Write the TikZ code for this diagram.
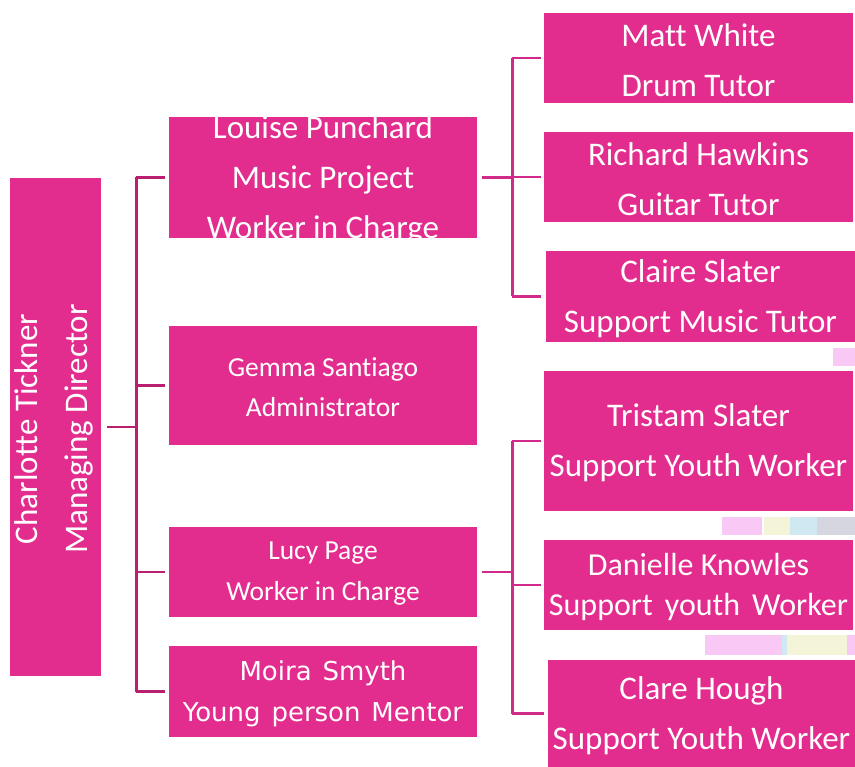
\documentclass[tikz,border=0pt]{standalone}
\usepackage{fontspec}
\setmainfont{Carlito}[Ligatures=NoCommon]
\newfontfamily\verd{DejaVu Sans}
\definecolor{boxpink}{HTML}{E22D8E}
\definecolor{lconn}{HTML}{B8206F}
\definecolor{rconn}{HTML}{D22A88}
\definecolor{artpink}{HTML}{FAC8F4}
\definecolor{artyel}{HTML}{F4F5D8}
\definecolor{artblue}{HTML}{D0E8F2}
\definecolor{artgrey}{HTML}{D6D6E0}
\tikzset{
  box/.style={rectangle, fill=boxpink, draw=none, inner sep=0pt},
  txt/.style={text=white, align=center, inner sep=0pt, yshift=-2pt},
  bigtxt/.style={txt, font=\fontsize{33}{50}\selectfont},
  lline/.style={draw=lconn, line width=2.6pt},
  rline/.style={draw=rconn, line width=2.6pt},
}
\begin{document}
\begin{tikzpicture}[x=1pt,y=-1pt]
\useasboundingbox (0,0) rectangle (855,767);
% faint artifacts
\fill[artpink] (833,348) rectangle (855,366);
\fill[artpink] (722,517) rectangle (762,535);
\fill[artyel] (764,517) rectangle (790,535);
\fill[artblue] (790,517) rectangle (817,535);
\fill[artgrey] (817,517) rectangle (855,535);
\fill[artpink] (705,635) rectangle (782,655);
\fill[artblue] (782,635) rectangle (787,655);
\fill[artyel] (787,635) rectangle (847,655);
\fill[artpink] (847,635) rectangle (855,655);
% boxes
\node[box, minimum width=91, minimum height=498] (ct) at (55.5,427) {};
\node[box, minimum width=308, minimum height=121] (lp) at (323,177.5) {};
\node[box, minimum width=308, minimum height=119] (gs) at (323,385.5) {};
\node[box, minimum width=308, minimum height=90] (lu) at (323,572) {};
\node[box, minimum width=308, minimum height=91] (ms) at (323,691.5) {};
\node[box, minimum width=309, minimum height=90] (mw) at (698.5,58) {};
\node[box, minimum width=309, minimum height=90] (rh) at (698.5,177) {};
\node[box, minimum width=309, minimum height=91] (cs) at (700.5,296.5) {};
\node[box, minimum width=309, minimum height=140] (ts) at (698.5,441) {};
\node[box, minimum width=309, minimum height=90] (dk) at (698.5,585) {};
\node[box, minimum width=307, minimum height=107] (ch) at (701.5,713.5) {};
% texts
\node[bigtxt, rotate=90, yshift=2pt] (ctT) at (ct.center) {Charlotte Tickner\\Managing Director};
\node[bigtxt] (lpT) at (lp.center) {Louise Punchard\\Music Project\\Worker in Charge};
\node[txt, font=\fontsize{27.5}{40}\selectfont] (gsT) at (gs.center) {Gemma Santiago\\Administrator};
\node[txt, font=\fontsize{27.5}{41}\selectfont] (luT) at (lu.center) {Lucy Page\\Worker in Charge};
\node[txt, font=\verd\fontsize{26}{41}\selectfont] (msT) at (ms.center) {Moira\hspace{0.1em} Smyth\\Young\hspace{0.1em} person\hspace{0.1em} Mentor};
\node[bigtxt] (mwT) at (mw.center) {Matt White\\Drum Tutor};
\node[bigtxt] (rhT) at (rh.center) {Richard Hawkins\\Guitar Tutor};
\node[bigtxt] (csT) at (cs.center) {Claire Slater\\Support Music Tutor};
\node[bigtxt] (tsT) at (ts.center) {Tristam Slater\\Support Youth Worker};
\node[txt, font=\fontsize{32}{40}\selectfont] (dkT) at (dk.center) {Danielle Knowles\\Support\hspace{0.15em} youth\hspace{0.15em} Worker};
\node[bigtxt] (chT) at (ch.center) {Clare Hough\\Support Youth Worker};
% left connectors
\path (ct.east) ++(35,0) coordinate (busL);
\draw[lline] ([xshift=6]ct.east) -- (busL);
\draw[lline] (busL |- lp.west) -- (busL |- ms.west);
\draw[lline] (busL |- lp.west) -- ([xshift=-4]lp.west);
\draw[lline] (busL |- gs.west) -- ([xshift=-4]gs.west);
\draw[lline] (busL |- lu.west) -- ([xshift=-4]lu.west);
\draw[lline] (busL |- ms.west) -- ([xshift=-4]ms.west);
% right upper connectors
\path (lp.east) ++(35,0) coordinate (busU);
\draw[rline] ([xshift=5]lp.east) -- (busU);
\draw[rline] (busU |- mw.west) -- (busU |- cs.west);
\draw[rline] (busU |- mw.west) -- ([xshift=-3]mw.west);
\draw[rline] (busU |- rh.west) -- ([xshift=-3]rh.west);
\draw[rline] (busU |- cs.west) -- ([xshift=-5]cs.west);
% right lower connectors
\path (lu.east) ++(35,0) coordinate (busD);
\draw[rline] ([xshift=5]lu.east) -- (busD);
\draw[rline] (busD |- ts.west) -- (busD |- ch.west);
\draw[rline] (busD |- ts.west) -- ([xshift=-3]ts.west);
\draw[rline] (busD |- dk.west) -- ([xshift=-3]dk.west);
\draw[rline] (busD |- ch.west) -- ([xshift=-4]ch.west);
\end{tikzpicture}
\end{document}
